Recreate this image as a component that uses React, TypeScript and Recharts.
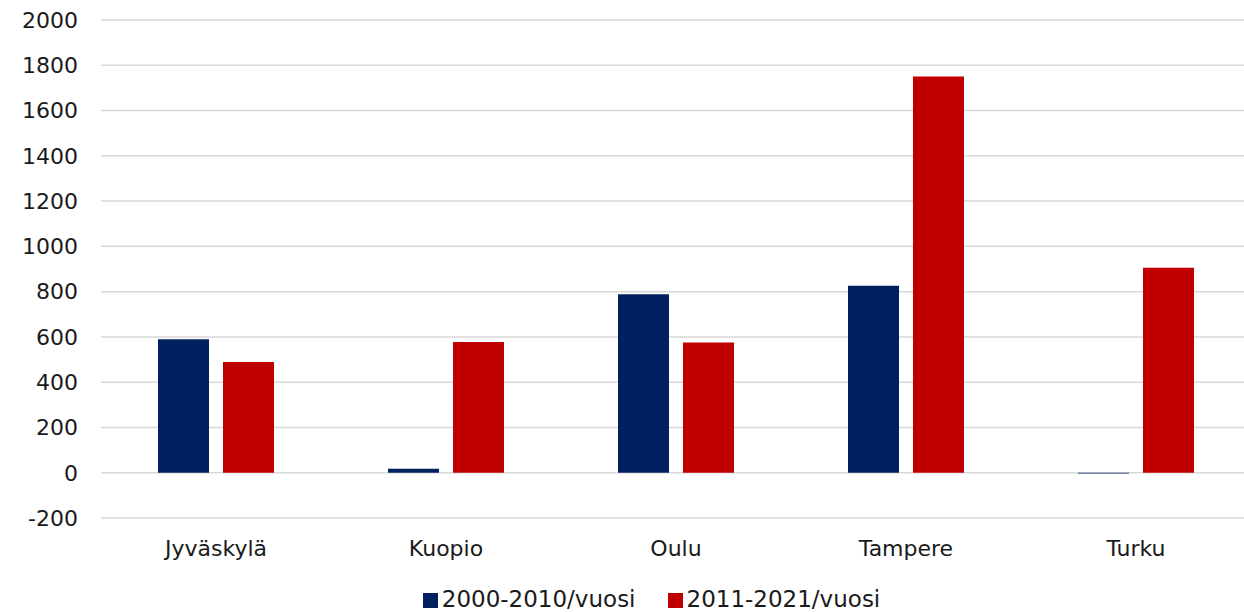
import { BarChart, Bar, XAxis, YAxis, CartesianGrid, Legend } from "recharts";

const cities = ["Jyväskylä", "Kuopio", "Oulu", "Tampere", "Turku"];
const period1 = [590, 18, 788, 826, -3];
const period2 = [489, 577, 575, 1750, 905];
const yTicks = [-200, 0, 200, 400, 600, 800, 1000, 1200, 1400, 1600, 1800, 2000];

const data = cities.map((city, i) => ({
    city,
    p1: period1[i],
    p2: period2[i],
}));

const font = "'DejaVu Sans', 'Noto Sans', sans-serif";

export default function App() {
    return (
        <div style={{ position: "absolute", left: 0, top: 0, width: 1244, height: 612, overflow: "hidden", background: "#fff", fontFamily: font }}>
            <BarChart
                width={1251}
                height={612}
                data={data}
                margin={{ top: 20, right: 0, bottom: 0, left: 0 }}
                barSize={51}
                barGap={14}
            >
                <CartesianGrid vertical={false} stroke="#d9d9d9" strokeWidth={1.5} />
                <XAxis
                    dataKey="city"
                    axisLine={false}
                    tickLine={false}
                    tickMargin={16}
                    height={58}
                    tick={{ fill: "#1a1a1a", fontSize: 22, fontFamily: font }}
                />
                <YAxis
                    domain={[-200, 2000]}
                    ticks={yTicks}
                    interval={0}
                    width={101}
                    axisLine={false}
                    tickLine={false}
                    tickMargin={17}
                    tick={{ fill: "#1a1a1a", fontSize: 22, fontFamily: font }}
                />
                <Legend
                    verticalAlign="bottom"
                    height={36}
                    iconType="square"
                    iconSize={15}
                    wrapperStyle={{ fontSize: 23, left: 42, bottom: -10, fontFamily: font }}
                    formatter={(v) => <span style={{ color: "#1a1a1a", marginRight: 22 }}>{v}</span>}
                />
                <Bar dataKey="p1" name="2000-2010/vuosi" fill="#002060" isAnimationActive={false} />
                <Bar dataKey="p2" name="2011-2021/vuosi" fill="#C00000" isAnimationActive={false} />
            </BarChart>
        </div>
    );
}
